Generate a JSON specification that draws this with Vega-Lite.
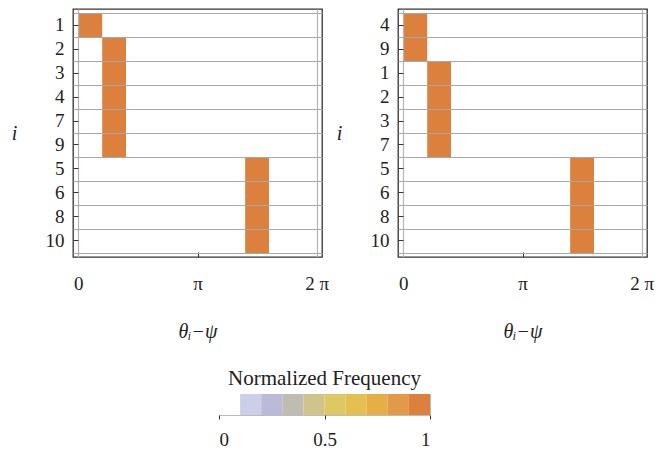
{
  "$schema": "https://vega.github.io/schema/vega-lite/v6.json",
  "padding": {"left": 10, "top": 8, "right": 0, "bottom": 0},
  "config": {
    "font": "Liberation Serif",
    "axis": {"labelFont": "Liberation Serif", "titleFont": "Liberation Serif", "labelColor": "#222", "titleColor": "#222", "tickColor": "#333"}
  },
  "datasets": {
    "cells": [
      {"panel": "A", "i": "1", "start": 0.0, "end": 0.2, "freq": 1},
      {"panel": "A", "i": "2", "start": 0.2, "end": 0.4, "freq": 1},
      {"panel": "A", "i": "3", "start": 0.2, "end": 0.4, "freq": 1},
      {"panel": "A", "i": "4", "start": 0.2, "end": 0.4, "freq": 1},
      {"panel": "A", "i": "7", "start": 0.2, "end": 0.4, "freq": 1},
      {"panel": "A", "i": "9", "start": 0.2, "end": 0.4, "freq": 1},
      {"panel": "A", "i": "5", "start": 1.4, "end": 1.6, "freq": 1},
      {"panel": "A", "i": "6", "start": 1.4, "end": 1.6, "freq": 1},
      {"panel": "A", "i": "8", "start": 1.4, "end": 1.6, "freq": 1},
      {"panel": "A", "i": "10", "start": 1.4, "end": 1.6, "freq": 1},
      {"panel": "B", "i": "4", "start": 0.0, "end": 0.2, "freq": 1},
      {"panel": "B", "i": "9", "start": 0.0, "end": 0.2, "freq": 1},
      {"panel": "B", "i": "1", "start": 0.2, "end": 0.4, "freq": 1},
      {"panel": "B", "i": "2", "start": 0.2, "end": 0.4, "freq": 1},
      {"panel": "B", "i": "3", "start": 0.2, "end": 0.4, "freq": 1},
      {"panel": "B", "i": "7", "start": 0.2, "end": 0.4, "freq": 1},
      {"panel": "B", "i": "5", "start": 1.4, "end": 1.6, "freq": 1},
      {"panel": "B", "i": "6", "start": 1.4, "end": 1.6, "freq": 1},
      {"panel": "B", "i": "8", "start": 1.4, "end": 1.6, "freq": 1},
      {"panel": "B", "i": "10", "start": 1.4, "end": 1.6, "freq": 1}
    ],
    "legend": [
      {"lo": 0.0, "hi": 0.1, "mid": 0.05},
      {"lo": 0.1, "hi": 0.2, "mid": 0.15},
      {"lo": 0.2, "hi": 0.3, "mid": 0.25},
      {"lo": 0.3, "hi": 0.4, "mid": 0.35},
      {"lo": 0.4, "hi": 0.5, "mid": 0.45},
      {"lo": 0.5, "hi": 0.6, "mid": 0.55},
      {"lo": 0.6, "hi": 0.7, "mid": 0.65},
      {"lo": 0.7, "hi": 0.8, "mid": 0.75},
      {"lo": 0.8, "hi": 0.9, "mid": 0.85},
      {"lo": 0.9, "hi": 1.0, "mid": 0.95}
    ]
  },
  "vconcat": [
    {
      "spacing": 5,
      "hconcat": [
        {
          "width": 249,
          "height": 248,
          "view": {"stroke": "#333", "strokeWidth": 1.3},
          "data": {"name": "cells"},
          "transform": [{"filter": "datum.panel === 'A'"}],
          "layer": [
            {
              "mark": {"type": "rect"},
              "encoding": {
                "x": {"field": "start", "type": "quantitative",
                  "scale": {"domain": [-0.045, 2.045], "nice": false, "zero": false},
                  "axis": {"orient": "bottom", "values": [0, 1, 2], "grid": false, "domain": false, "tickSize": -5, "labelPadding": 22, "labelFontSize": 19, "labelExpr": "datum.value == 0 ? '0' : datum.value == 1 ? 'π' : '2 π'", "title": "θᵢ−ψ", "titleFontSize": 20, "titleFontStyle": "italic", "titleFontWeight": "normal", "titlePadding": 28}},
                "x2": {"field": "end"},
                "y": {"field": "i", "type": "nominal",
                  "scale": {"domain": ["1", "2", "3", "4", "7", "9", "5", "6", "8", "10"], "paddingInner": 0, "paddingOuter": 0.17},
                  "axis": {"orient": "left", "grid": false, "domain": false, "tickSize": -5, "labelPadding": 14, "labelFontSize": 19, "labelAngle": 0, "title": "i", "titleAngle": 0, "titleFontSize": 20, "titleFontStyle": "italic", "titleFontWeight": "normal", "titlePadding": 31, "titleBaseline": "middle"}},
                "color": {"field": "freq", "type": "quantitative",
                  "scale": {"type": "quantize", "domain": [0, 1], "range": ["#ffffff", "#cbcfe9", "#bbbbd9", "#bfbcb2", "#d0c48a", "#dec864", "#e4c050", "#e5af45", "#e39a48", "#dc813d"]},
                  "legend": null}
              }
            },
            {
              "mark": {"type": "rect", "opacity": 0},
              "encoding": {
                "x": {"field": "start", "type": "quantitative",
                  "axis": {"orient": "top", "values": [0, 2], "grid": true, "gridColor": "#b5b5b5", "gridWidth": 1.2, "domain": false, "ticks": false, "labels": false, "title": null, "zindex": 1}},
                "x2": {"field": "end"},
                "y": {"field": "i", "type": "nominal",
                  "axis": {"orient": "right", "tickBand": "extent", "grid": true, "gridColor": "#a8a8a8", "gridWidth": 1.2, "domain": false, "ticks": false, "labels": false, "title": null, "zindex": 1}}
              }
            }
          ],
          "resolve": {"axis": {"x": "independent", "y": "independent"}}
        },
        {
          "width": 249,
          "height": 248,
          "view": {"stroke": "#333", "strokeWidth": 1.3},
          "data": {"name": "cells"},
          "transform": [{"filter": "datum.panel === 'B'"}],
          "layer": [
            {
              "mark": {"type": "rect"},
              "encoding": {
                "x": {"field": "start", "type": "quantitative",
                  "scale": {"domain": [-0.045, 2.045], "nice": false, "zero": false},
                  "axis": {"orient": "bottom", "values": [0, 1, 2], "grid": false, "domain": false, "tickSize": -5, "labelPadding": 22, "labelFontSize": 19, "labelExpr": "datum.value == 0 ? '0' : datum.value == 1 ? 'π' : '2 π'", "title": "θᵢ−ψ", "titleFontSize": 20, "titleFontStyle": "italic", "titleFontWeight": "normal", "titlePadding": 28}},
                "x2": {"field": "end"},
                "y": {"field": "i", "type": "nominal",
                  "scale": {"domain": ["4", "9", "1", "2", "3", "7", "5", "6", "8", "10"], "paddingInner": 0, "paddingOuter": 0.17},
                  "axis": {"orient": "left", "grid": false, "domain": false, "tickSize": -5, "labelPadding": 14, "labelFontSize": 19, "labelAngle": 0, "title": "i", "titleAngle": 0, "titleFontSize": 20, "titleFontStyle": "italic", "titleFontWeight": "normal", "titlePadding": 31, "titleBaseline": "middle"}},
                "color": {"field": "freq", "type": "quantitative",
                  "scale": {"type": "quantize", "domain": [0, 1], "range": ["#ffffff", "#cbcfe9", "#bbbbd9", "#bfbcb2", "#d0c48a", "#dec864", "#e4c050", "#e5af45", "#e39a48", "#dc813d"]},
                  "legend": null}
              }
            },
            {
              "mark": {"type": "rect", "opacity": 0},
              "encoding": {
                "x": {"field": "start", "type": "quantitative",
                  "axis": {"orient": "top", "values": [0, 2], "grid": true, "gridColor": "#b5b5b5", "gridWidth": 1.2, "domain": false, "ticks": false, "labels": false, "title": null, "zindex": 1}},
                "x2": {"field": "end"},
                "y": {"field": "i", "type": "nominal",
                  "axis": {"orient": "right", "tickBand": "extent", "grid": true, "gridColor": "#a8a8a8", "gridWidth": 1.2, "domain": false, "ticks": false, "labels": false, "title": null, "zindex": 1}}
              }
            }
          ],
          "resolve": {"axis": {"x": "independent", "y": "independent"}}
        }
      ]
    },
    {
      "spacing": 0,
      "hconcat": [
        {
          "width": 145,
          "height": 21,
          "view": {"stroke": null},
          "data": {"values": []},
          "mark": {"type": "point"}
        },
        {
          "width": 211,
          "height": 21,
          "view": {"stroke": "#bbbbbb", "strokeWidth": 1},
          "data": {"name": "legend"},
          "title": {"text": "Normalized Frequency", "fontSize": 21, "font": "Liberation Serif", "fontWeight": "normal", "color": "#222", "offset": 5},
          "mark": {"type": "rect"},
          "encoding": {
            "x": {"field": "lo", "type": "quantitative",
              "scale": {"domain": [0, 1], "nice": false, "zero": false},
              "axis": {"values": [0, 0.5, 1], "format": "~g", "grid": false, "domain": false, "tickSize": 4, "labelPadding": 11, "labelFontSize": 19, "title": null}},
            "x2": {"field": "hi"},
            "color": {"field": "mid", "type": "quantitative",
              "scale": {"type": "quantize", "domain": [0, 1], "range": ["#ffffff", "#cbcfe9", "#bbbbd9", "#bfbcb2", "#d0c48a", "#dec864", "#e4c050", "#e5af45", "#e39a48", "#dc813d"]},
              "legend": null}
          }
        }
      ]
    }
  ],
  "spacing": 25
}
